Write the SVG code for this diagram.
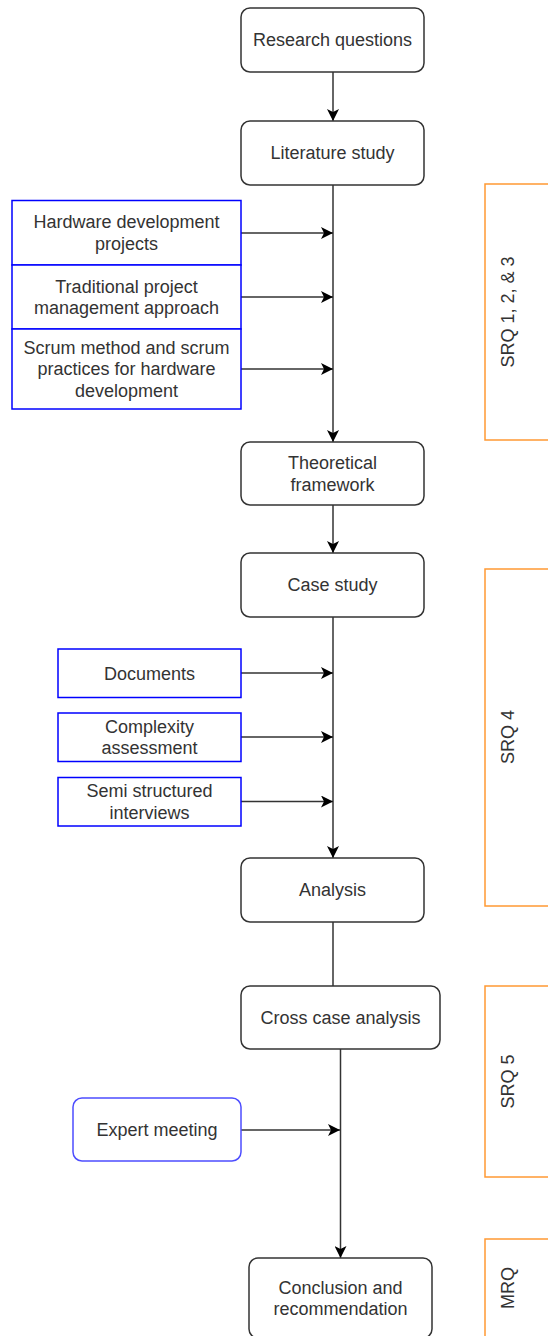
<svg xmlns="http://www.w3.org/2000/svg" width="548" height="1336" viewBox="0 0 548 1336">
  <style>
    .step { fill: #ffffff; stroke: #333333; stroke-width: 1.5; }
    .src { fill: #ffffff; stroke: #0000ff; stroke-width: 1.5; }
    .src2 { fill: #ffffff; stroke: #4d4dff; stroke-width: 1.5; }
    .band { fill: none; stroke: #ff9933; stroke-width: 1.5; }
    .lbl { font-family: "Liberation Sans", Arial, sans-serif; font-size: 18px; fill: #333333; text-anchor: middle; }
    .edge { fill: none; stroke: #333333; stroke-width: 1.5; }
  </style>
  <defs>
    <marker id="arrow" viewBox="0 0 12 12" refX="12" refY="6" markerWidth="12" markerHeight="12" markerUnits="userSpaceOnUse" orient="auto">
      <path d="M0,0 L12,6 L0,12 L3,6 Z" fill="#000000"/>
    </marker>
  </defs>
  <rect width="548" height="1336" fill="#ffffff"/>

  <!-- research question bands -->
  <g id="band-srq123">
    <rect class="band" x="485" y="184" width="90" height="256"/>
    <text class="lbl" x="508" y="318.4" transform="rotate(-90 508 312)">SRQ 1, 2, &amp; 3</text>
  </g>
  <g id="band-srq4">
    <rect class="band" x="485" y="569" width="90" height="337"/>
    <text class="lbl" x="508" y="743.4" transform="rotate(-90 508 737)">SRQ 4</text>
  </g>
  <g id="band-srq5">
    <rect class="band" x="485" y="986" width="90" height="191"/>
    <text class="lbl" x="508" y="1087.9" transform="rotate(-90 508 1081.5)">SRQ 5</text>
  </g>
  <g id="band-mrq">
    <rect class="band" x="485" y="1239" width="90" height="140"/>
    <text class="lbl" x="508" y="1294.4" transform="rotate(-90 508 1288)">MRQ</text>
  </g>

  <!-- connectors -->
  <g id="connectors">
    <line class="edge" x1="333" y1="72" x2="333" y2="121" marker-end="url(#arrow)"/>
    <line class="edge" x1="333" y1="185" x2="333" y2="442" marker-end="url(#arrow)"/>
    <line class="edge" x1="241" y1="233" x2="333" y2="233" marker-end="url(#arrow)"/>
    <line class="edge" x1="241" y1="297" x2="333" y2="297" marker-end="url(#arrow)"/>
    <line class="edge" x1="241" y1="369" x2="333" y2="369" marker-end="url(#arrow)"/>
    <line class="edge" x1="333" y1="505" x2="333" y2="553" marker-end="url(#arrow)"/>
    <line class="edge" x1="333" y1="617" x2="333" y2="858" marker-end="url(#arrow)"/>
    <line class="edge" x1="241" y1="673" x2="333" y2="673" marker-end="url(#arrow)"/>
    <line class="edge" x1="241" y1="737" x2="333" y2="737" marker-end="url(#arrow)"/>
    <line class="edge" x1="241" y1="801.5" x2="333" y2="801.5" marker-end="url(#arrow)"/>
    <line class="edge" x1="333" y1="922" x2="333" y2="986"/>
    <line class="edge" x1="340.5" y1="1049" x2="340.5" y2="1258" marker-end="url(#arrow)"/>
    <line class="edge" x1="241" y1="1130" x2="340" y2="1130" marker-end="url(#arrow)"/>
  </g>

  <!-- process steps -->
  <g id="research-questions">
    <rect class="step" x="241" y="8" width="183" height="64" rx="9"/>
    <text class="lbl" x="332.5" y="46.4">Research questions</text>
  </g>
  <g id="literature-study">
    <rect class="step" x="241" y="121" width="183" height="64" rx="9"/>
    <text class="lbl" x="332.5" y="159.4">Literature study</text>
  </g>
  <g id="hardware-projects">
    <rect class="src" x="12" y="200.5" width="229" height="64.5"/>
    <text class="lbl" x="126.5" y="228.4">Hardware development</text>
    <text class="lbl" x="126.5" y="250">projects</text>
  </g>
  <g id="traditional-pm">
    <rect class="src" x="12" y="265" width="229" height="64"/>
    <text class="lbl" x="126.5" y="292.6">Traditional project</text>
    <text class="lbl" x="126.5" y="314.2">management approach</text>
  </g>
  <g id="scrum-practices">
    <rect class="src" x="12" y="329" width="229" height="80"/>
    <text class="lbl" x="126.5" y="353.8">Scrum method and scrum</text>
    <text class="lbl" x="126.5" y="375.4">practices for hardware</text>
    <text class="lbl" x="126.5" y="397">development</text>
  </g>
  <g id="theoretical-framework">
    <rect class="step" x="241" y="442" width="183" height="63" rx="9"/>
    <text class="lbl" x="332.5" y="469.1">Theoretical</text>
    <text class="lbl" x="332.5" y="490.7">framework</text>
  </g>
  <g id="case-study">
    <rect class="step" x="241" y="553" width="183" height="64" rx="9"/>
    <text class="lbl" x="332.5" y="591.4">Case study</text>
  </g>
  <g id="documents">
    <rect class="src" x="58" y="649" width="183" height="48.5"/>
    <text class="lbl" x="149.5" y="679.6">Documents</text>
  </g>
  <g id="complexity-assessment">
    <rect class="src" x="58" y="713" width="183" height="48.5"/>
    <text class="lbl" x="149.5" y="732.8">Complexity</text>
    <text class="lbl" x="149.5" y="754.4">assessment</text>
  </g>
  <g id="semi-structured-interviews">
    <rect class="src" x="58" y="777.5" width="183" height="48.5"/>
    <text class="lbl" x="149.5" y="797">Semi structured</text>
    <text class="lbl" x="149.5" y="818.6">interviews</text>
  </g>
  <g id="analysis">
    <rect class="step" x="241" y="858" width="183" height="64" rx="9"/>
    <text class="lbl" x="332.5" y="896.4">Analysis</text>
  </g>
  <g id="cross-case-analysis">
    <rect class="step" x="241" y="986" width="199" height="63" rx="9"/>
    <text class="lbl" x="340.5" y="1023.9">Cross case analysis</text>
  </g>
  <g id="expert-meeting">
    <rect class="src2" x="73" y="1098" width="168" height="63" rx="9"/>
    <text class="lbl" x="157" y="1136">Expert meeting</text>
  </g>
  <g id="conclusion">
    <rect class="step" x="249" y="1258" width="183" height="80" rx="9"/>
    <text class="lbl" x="340.5" y="1293.8">Conclusion and</text>
    <text class="lbl" x="340.5" y="1315.4">recommendation</text>
  </g>
</svg>
